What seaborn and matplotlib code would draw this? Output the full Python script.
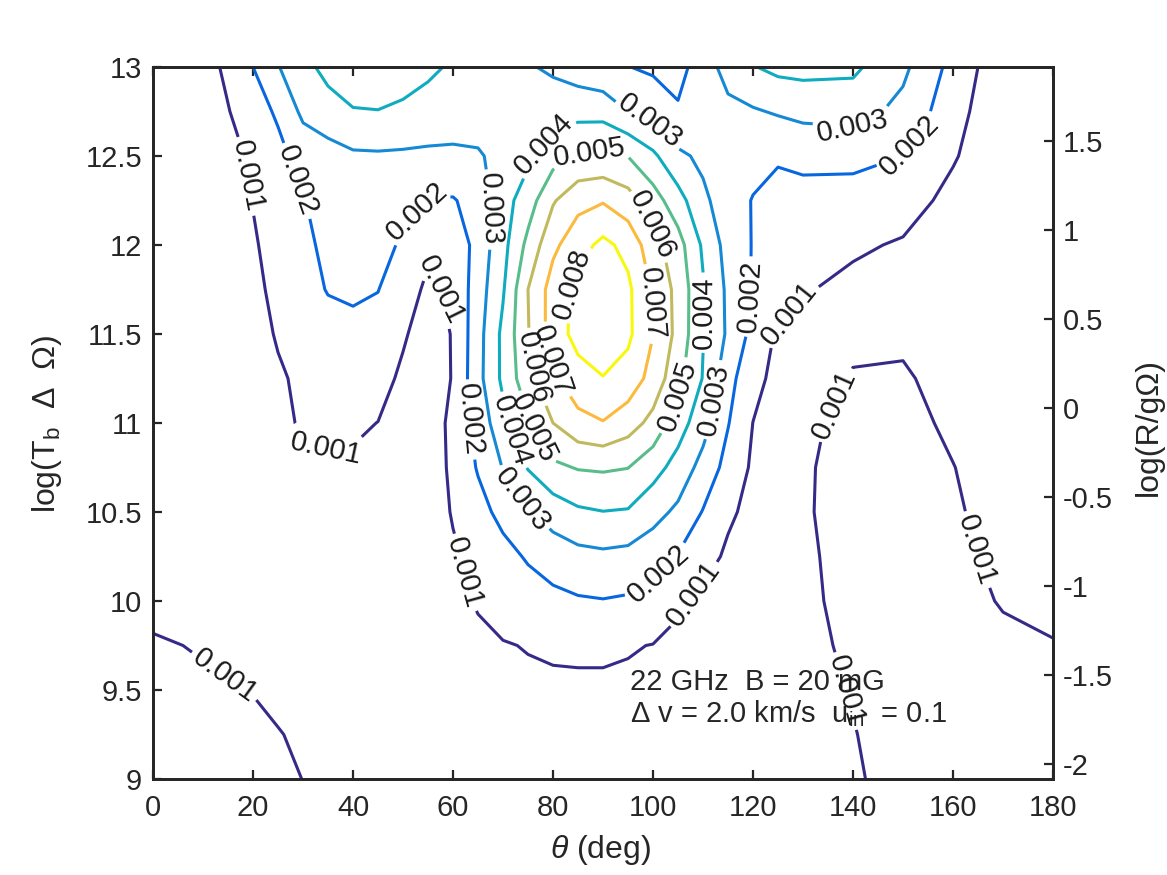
import numpy as np
import matplotlib
matplotlib.use("Agg")
import matplotlib.pyplot as plt
import seaborn as sns
from matplotlib.ticker import FuncFormatter

# ---------------- data ----------------
theta_deg = [0, 10, 20, 25, 30, 35, 40, 45, 50, 55, 60, 65, 70, 75, 80, 85,
             90, 95, 100, 105, 110, 115, 120, 125, 130, 140, 150, 160, 170, 180]
log_tb = [9.0, 9.25, 9.5, 9.75, 10.0, 10.25, 10.5, 10.75, 11.0, 11.25,
          11.5, 11.75, 12.0, 12.25, 12.5, 12.75, 13.0]

# contour quantity, in units of 1e-3; one row per log_tb value (bottom to top)
z_milli = [
    [1.6, 1.55, 1.35, 1.18, 0.99, 0.88, 0.78, 0.74, 0.7, 0.7, 0.7, 0.72, 0.72, 0.72, 0.72, 0.72, 0.72, 0.72, 0.72, 0.72, 0.72, 0.72, 0.72, 0.74, 0.8, 0.95, 1.15, 1.28, 1.28, 1.25],
    [1.5, 1.4, 1.2, 1.03, 0.9, 0.8, 0.72, 0.7, 0.68, 0.7, 0.72, 0.75, 0.78, 0.8, 0.8, 0.8, 0.8, 0.8, 0.78, 0.76, 0.74, 0.73, 0.73, 0.75, 0.82, 0.98, 1.2, 1.3, 1.28, 1.25],
    [1.35, 1.2, 0.97, 0.85, 0.75, 0.7, 0.65, 0.65, 0.65, 0.7, 0.75, 0.8, 0.85, 0.88, 0.9, 0.9, 0.9, 0.88, 0.85, 0.8, 0.75, 0.72, 0.72, 0.75, 0.82, 1.03, 1.25, 1.3, 1.25, 1.2],
    [1.15, 0.9, 0.7, 0.6, 0.55, 0.55, 0.55, 0.6, 0.65, 0.7, 0.8, 0.88, 0.96, 1.03, 1.08, 1.1, 1.1, 1.05, 0.98, 0.85, 0.75, 0.7, 0.7, 0.75, 0.85, 1.1, 1.35, 1.3, 1.15, 1.05],
    [0.6, 0.5, 0.45, 0.5, 0.5, 0.55, 0.55, 0.6, 0.65, 0.75, 0.85, 1.05, 1.3, 1.55, 1.75, 1.9, 1.96, 1.88, 1.6, 1.1, 0.8, 0.7, 0.65, 0.7, 0.75, 1.35, 1.5, 1.25, 0.95, 0.75],
    [0.2, 0.35, 0.45, 0.5, 0.55, 0.6, 0.6, 0.6, 0.6, 0.7, 0.88, 1.28, 1.69, 2.1, 2.45, 2.7, 2.8, 2.7, 2.4, 1.94, 1.35, 0.85, 0.7, 0.7, 0.8, 1.4, 1.5, 1.2, 0.8, 0.6],
    [0.15, 0.3, 0.45, 0.55, 0.65, 0.7, 0.7, 0.65, 0.55, 0.5, 1.07, 1.67, 2.28, 2.9, 3.45, 3.85, 3.98, 3.92, 3.35, 2.8, 1.95, 1.15, 0.75, 0.65, 0.9, 1.35, 1.45, 1.1, 0.7, 0.55],
    [0.1, 0.25, 0.5, 0.65, 0.8, 0.9, 0.88, 0.82, 0.7, 0.45, 1.2, 2.08, 3.04, 4.06, 4.8, 5.06, 5.12, 5.02, 4.38, 3.63, 2.65, 1.66, 0.85, 0.6, 0.9, 1.3, 1.35, 1.02, 0.6, 0.5],
    [0.05, 0.2, 0.55, 0.85, 1.07, 1.15, 1.12, 0.99, 0.6, 0.5, 1.23, 2.34, 3.71, 4.88, 6.0, 6.7, 6.95, 6.45, 5.7, 4.45, 3.4, 2.05, 0.99, 0.6, 0.85, 1.2, 1.25, 0.85, 0.55, 0.45],
    [0.05, 0.15, 0.6, 0.9, 1.15, 1.35, 1.45, 1.3, 0.85, 0.5, 1.05, 2.69, 4.21, 5.67, 6.82, 7.6, 7.97, 7.6, 6.64, 5.3, 3.95, 2.33, 1.31, 0.7, 0.6, 1.05, 1.1, 0.7, 0.45, 0.35],
    [0.05, 0.1, 0.7, 1.07, 1.4, 1.65, 1.8, 1.7, 1.1, 0.6, 1.05, 2.64, 4.23, 5.94, 7.47, 8.35, 8.5, 8.2, 7.02, 5.7, 4.04, 2.85, 1.7, 0.85, 0.75, 0.85, 0.85, 0.6, 0.35, 0.25],
    [0.05, 0.1, 0.8, 1.21, 1.65, 2.05, 2.12, 2.02, 1.5, 0.8, 1.18, 2.52, 3.9, 6.0, 7.44, 8.3, 8.45, 8.2, 6.87, 5.69, 4.1, 2.8, 1.92, 1.5, 1.08, 0.75, 0.5, 0.3, 0.1, 0.1],
    [0.05, 0.1, 0.9, 1.35, 1.8, 2.2, 2.3, 2.15, 1.94, 1.2, 1.29, 2.36, 3.68, 5.27, 6.78, 7.6, 8.25, 7.7, 6.38, 5.4, 3.85, 2.62, 1.95, 1.7, 1.5, 1.15, 0.9, 0.5, 0.15, 0.1],
    [0.05, 0.1, 1.03, 1.5, 1.96, 2.3, 2.45, 2.4, 2.2, 1.95, 1.93, 2.37, 3.6, 4.52, 5.9, 6.7, 6.92, 6.4, 5.45, 4.4, 3.2, 2.49, 1.95, 1.85, 1.8, 1.7, 1.45, 0.7, 0.15, 0.1],
    [0.05, 0.1, 1.19, 1.75, 2.35, 2.6, 2.85, 2.88, 2.85, 2.8, 2.8, 2.9, 3.3, 3.8, 4.6, 5.1, 5.15, 4.98, 4.2, 3.2, 2.8, 2.55, 2.35, 2.05, 2.15, 2.2, 2.0, 1.1, 0.2, 0.15],
    [0.3, 0.3, 1.6, 2.13, 3.22, 3.6, 3.95, 3.98, 3.85, 3.7, 3.55, 3.45, 3.4, 3.4, 3.5, 3.65, 3.65, 3.0, 2.6, 2.05, 2.08, 2.6, 2.9, 3.1, 3.3, 3.4, 2.73, 1.4, 0.2, 0.15],
    [0.3, 0.5, 2.0, 2.95, 3.7, 4.3, 4.5, 4.5, 4.4, 4.15, 3.9, 3.55, 3.3, 3.08, 2.85, 2.5, 2.2, 2.02, 1.85, 1.85, 2.22, 3.61, 3.95, 4.25, 4.3, 4.2, 3.21, 1.69, 0.31, 0.2],
]

levels = [0.001, 0.002, 0.003, 0.004, 0.005, 0.006, 0.007, 0.008]
x_ticks = [0, 20, 40, 60, 80, 100, 120, 140, 160, 180]
y_ticks = [9, 9.5, 10, 10.5, 11, 11.5, 12, 12.5, 13]
right_ticks = [-2, -1.5, -1, -0.5, 0, 0.5, 1, 1.5]
right_offset = 11.085          # log(R/gOmega) = log(Tb dOmega) - offset
annot_line1 = "22 GHz  B = 20 mG"
annot_line2 = "\u0394 v = 2.0 km/s  u$_{\\rm in}$  = 0.1"

# ---------------- style ----------------
sns.set_theme(style="ticks")
plt.rcParams.update({
    "font.family": ["Liberation Sans", "DejaVu Sans"],
    "mathtext.fontset": "custom",
    "mathtext.rm": "Liberation Sans",
    "mathtext.it": "Liberation Sans:italic",
    "axes.unicode_minus": False,
})
line_colors = sns.color_palette(["#352A87", "#0866DE", "#1589D4", "#0FABBF",
                                 "#58BD8B", "#C1B95D", "#FBBA3D", "#F8F80F"])
TICK_FS = 21
LABEL_FS = 23

# label anchor positions (theta, log Tb) for each level, matching reference
label_pos = {
    0.001: [(19.4, 12.39), (34.8, 10.87), (59.0, 11.76), (62.4, 10.16),
            (108.4, 10.03), (127.0, 11.62), (135.8, 11.11), (138.0, 9.49),
            (163.8, 10.28), (14.8, 9.6)],
    0.002: [(30.8, 12.38), (51.6, 12.21), (63.8, 11.02), (99.8, 10.19),
            (119.4, 11.71), (151.8, 12.55)],
    0.003: [(67.8, 12.2), (99.4, 12.69), (140.4, 12.63), (112.2, 11.13),
            (73.8, 10.57)],
    0.004: [(79.4, 12.54), (110.4, 11.62), (72.0, 10.96)],
    0.005: [(87.4, 12.48), (104.8, 11.15), (76.8, 10.98)],
    0.006: [(99.8, 12.11), (76.0, 11.31)],
    0.007: [(100.0, 11.67), (78.6, 11.34)],
    0.008: [(84.0, 11.78)],
}

W, H = 1167, 875
fig = plt.figure(figsize=(W / 100, H / 100), dpi=100)
ax = fig.add_axes([153 / W, 1 - 779 / H, 900 / W, 712 / H])
ax.set_xlim(0, 180)
ax.set_ylim(9, 13)

Z = np.array(z_milli) * 1e-3
for lev, col in zip(levels, line_colors):
    cs = ax.contour(theta_deg, log_tb, Z, levels=[lev], colors=[col],
                    linewidths=2.2)
    ax.clabel(cs, manual=label_pos[lev], inline=True, inline_spacing=4,
              fmt=lambda v: f"{v:.3f}", fontsize=TICK_FS, colors="k")
ax.set_xlim(0, 180)
ax.set_ylim(9, 13)

fmt_g = FuncFormatter(lambda v, p: f"{v:g}")
ax.set_xticks(x_ticks)
ax.set_yticks(y_ticks)
ax.yaxis.set_major_formatter(fmt_g)
ax.xaxis.set_major_formatter(fmt_g)
ax.tick_params(axis="both", direction="in", length=6.5, width=1.6,
               labelsize=TICK_FS, colors="#262626", pad=8)
ax.tick_params(axis="x", top=True, pad=11)
ax.tick_params(axis="y", right=False)

ax2 = ax.twinx()
ax2.set_ylim(9 - right_offset, 13 - right_offset)
ax2.set_yticks(right_ticks)
ax2.yaxis.set_major_formatter(fmt_g)
ax2.tick_params(axis="y", direction="in", length=6.5, width=1.6,
                labelsize=TICK_FS, colors="#262626", pad=7)

for a in (ax, ax2):
    for s in a.spines.values():
        s.set_linewidth(2.0)
        s.set_color("#262626")
        s.set_visible(True)

ax.text(95.4, 9.50, annot_line1, fontsize=TICK_FS, va="baseline", ha="left")
ax.text(95.4, 9.32, annot_line2, fontsize=TICK_FS, va="baseline", ha="left")

fig.text(601 / W, 1 - 850 / H, "$\\it{\\theta}$ (deg)", fontsize=LABEL_FS,
         ha="center", va="center", color="#262626")
fig.text(47 / W, 1 - 424 / H, "log(T$_{\\rm b}$  \u0394  \u03a9)",
         fontsize=LABEL_FS, rotation=90, ha="center", va="center",
         color="#262626")
fig.text(1149 / W, 1 - 427 / H, "log(R/g\u03a9)", fontsize=LABEL_FS,
         rotation=90, ha="center", va="center", color="#262626")

fig.savefig("out.png", dpi=100, facecolor="white")
